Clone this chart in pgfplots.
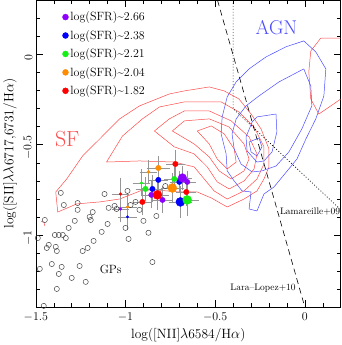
\documentclass[border=0pt]{standalone}
\usepackage{pgfplots}
\usepackage{pgfplotstable}
\pgfplotsset{compat=1.18}

\definecolor{cpurple}{RGB}{140,0,255}
\definecolor{cblue}{RGB}{0,0,255}
\definecolor{cgreen}{RGB}{20,240,20}
\definecolor{corange}{RGB}{255,140,0}
\definecolor{cred}{RGB}{255,0,0}
\definecolor{sfred}{RGB}{255,75,75}
\definecolor{agnblue}{RGB}{75,75,255}
\definecolor{errgray}{RGB}{150,150,150}
\definecolor{gpgray}{RGB}{70,70,70}

% x y xerr yerr marksize
\pgfplotstableread{
x y ex ey s
-1.028 -0.856 0.040 0.065 1.3
-0.856 -0.778 0.045 0.065 2.7
-0.794 -0.806 0.045 0.065 2.7
-0.656 -0.706 0.040 0.050 2.7
-0.683 -0.684 0.045 0.055 4.3
}\tpurple
\pgfplotstableread{
x y ex ey s
-0.989 -0.900 0.045 0.065 1.3
-0.850 -0.745 0.045 0.065 2.7
-0.817 -0.695 0.045 0.055 2.7
-0.700 -0.706 0.040 0.050 2.7
-0.694 -0.817 0.055 0.080 4.5
}\tblue
\pgfplotstableread{
x y ex ey s
-0.911 -0.712 0.040 0.065 1.3
-0.889 -0.745 0.045 0.055 2.7
-0.728 -0.690 0.045 0.055 2.7
-0.656 -0.806 0.055 0.080 4.5
}\tgreen
\pgfplotstableread{
x y ex ey s
-0.989 -0.845 0.045 0.065 1.3
-0.872 -0.651 0.040 0.055 1.5
-0.817 -0.629 0.055 0.055 2.7
-0.739 -0.740 0.055 0.075 4.5
}\torange
\pgfplotstableread{
x y ex ey s
-1.028 -0.773 0.040 0.080 1.3
-0.906 -0.817 0.045 0.065 2.7
-0.722 -0.607 0.045 0.065 2.7
-0.661 -0.762 0.045 0.065 2.7
-0.822 -0.778 0.055 0.075 4.5
}\tred

% green peas
\pgfplotstableread{
x y
-1.361 -0.767
-1.344 -0.834
-1.267 -0.823
-1.267 -0.861
-1.450 -0.917
-1.489 -1.017
-1.428 -1.055
-1.439 -1.072
-1.389 -1.066
-1.383 -1.089
-1.394 -1.000
-1.372 -1.000
-1.350 -1.000
-1.333 -1.017
-1.317 -0.961
-1.283 -0.922
-1.200 -0.900
-1.194 -0.917
-1.183 -0.873
-1.133 -0.983
-1.100 -0.939
-1.178 -1.033
-1.211 -1.072
-1.239 -1.089
-1.256 -1.172
-1.356 -1.177
-1.411 -1.161
-1.478 -1.188
-1.372 -1.216
-1.300 -1.238
-1.222 -1.260
-1.383 -1.299
-1.456 -1.393
-1.117 -0.773
-0.989 -0.756
-1.094 -0.850
-1.061 -0.839
-1.050 -0.856
-0.972 -0.834
-0.944 -0.817
-0.922 -0.861
-0.900 -0.922
-0.828 -0.895
-0.872 -0.988
-1.000 -0.961
-0.983 -1.022
-0.850 -1.150
-0.778 -0.729
}\tgps

\pgfplotsset{
  errs/.style={forget plot, draw=none, mark=none,
    error bars/.cd, x dir=both, x explicit, y dir=both, y explicit,
    error bar style={draw=errgray, line width=0.5pt},
    error mark options={draw=errgray, mark size=1.8pt}},
  dots/.style={forget plot, scatter, only marks, mark=*,
    scatter/use mapped color={draw=#1, fill=#1},
    visualization depends on={\thisrow{s} \as \msize},
    scatter/@pre marker code/.append style={/tikz/mark size=\msize}},
}

\begin{document}
\begin{tikzpicture}
\begin{axis}[
  scale only axis, width=306pt, height=308pt,
  xmin=-1.5, xmax=0.2, ymin=-1.4, ymax=0.3,
  xtick={-1.5,-1,-0.5,0}, ytick={-1,-0.5,0},
  minor xtick={-1.4,-1.3,-1.2,-1.1,-0.9,-0.8,-0.7,-0.6,-0.4,-0.3,-0.2,-0.1,0.1},
  minor ytick={-1.3,-1.2,-1.1,-0.9,-0.8,-0.7,-0.6,-0.4,-0.3,-0.2,-0.1,0.1,0.2},
  tick align=inside, major tick length=7pt, minor tick length=4pt,
  tick style={black, line width=0.5pt},
  axis line style={line width=0.6pt},
  ticklabel style={font=\fontsize{13}{15}\selectfont},
  xticklabel style={yshift=-2pt},
  yticklabel style={rotate=90, anchor=south, xshift=-3pt},
  label style={font=\fontsize{13.5}{16}\selectfont},
  xlabel={log([NII]$\lambda$6584/H$\alpha$)},
  ylabel={log([SII]$\lambda\lambda$6717,6731/H$\alpha$)},
  legend cell align=left,
  legend style={draw=none, fill=none, at={(0.077,0.976)}, anchor=north west,
    font=\fontsize{12}{14}\selectfont, row sep=4pt},
]
\addlegendimage{only marks, mark=*, mark size=3pt, cpurple}
\addlegendentry{log(SFR)\textasciitilde2.66}
\addlegendimage{only marks, mark=*, mark size=3pt, cblue}
\addlegendentry{log(SFR)\textasciitilde2.38}
\addlegendimage{only marks, mark=*, mark size=3pt, cgreen}
\addlegendentry{log(SFR)\textasciitilde2.21}
\addlegendimage{only marks, mark=*, mark size=3pt, corange}
\addlegendentry{log(SFR)\textasciitilde2.04}
\addlegendimage{only marks, mark=*, mark size=3pt, cred}
\addlegendentry{log(SFR)\textasciitilde1.82}

% SF contours
\addplot[forget plot, sfred, line width=0.5pt] coordinates {
(-1.378,-0.873) (-1.389,-0.762) (-1.328,-0.690) (-1.239,-0.562) (-1.144,-0.468)
(-1.033,-0.357) (-0.922,-0.285) (-0.756,-0.219) (-0.672,-0.202) (-0.533,-0.180)
(-0.450,-0.202) (-0.367,-0.247) (-0.300,-0.330) (-0.244,-0.413) (-0.200,-0.524)
(-0.200,-0.623) (-0.228,-0.690) (-0.267,-0.756) (-0.339,-0.801) (-0.433,-0.845)
(-0.522,-0.795) (-0.600,-0.762) (-0.700,-0.762) (-0.828,-0.751) (-0.906,-0.751)
(-0.961,-0.773) (-1.033,-0.801) (-1.144,-0.817) (-1.272,-0.828) (-1.378,-0.873)};
\addplot[forget plot, sfred, line width=0.5pt] coordinates {
(-1.106,-0.596) (-1.017,-0.452) (-0.906,-0.357) (-0.811,-0.291) (-0.672,-0.263)
(-0.467,-0.263) (-0.367,-0.319) (-0.283,-0.402) (-0.228,-0.512) (-0.228,-0.607)
(-0.267,-0.690) (-0.339,-0.756) (-0.433,-0.801) (-0.506,-0.756) (-0.561,-0.690)
(-0.617,-0.623) (-0.728,-0.596) (-0.922,-0.590) (-1.106,-0.596)};
\addplot[forget plot, sfred, line width=0.5pt] coordinates {
(-0.839,-0.424) (-0.756,-0.357) (-0.672,-0.313) (-0.533,-0.313) (-0.411,-0.368)
(-0.311,-0.457) (-0.267,-0.551) (-0.283,-0.634) (-0.339,-0.701) (-0.422,-0.745)
(-0.489,-0.706) (-0.544,-0.623) (-0.617,-0.551) (-0.728,-0.512) (-0.839,-0.424)};
\addplot[forget plot, sfred, line width=0.5pt] coordinates {
(-0.739,-0.424) (-0.672,-0.368) (-0.533,-0.357) (-0.422,-0.402) (-0.339,-0.496)
(-0.311,-0.579) (-0.339,-0.645) (-0.411,-0.690) (-0.478,-0.645) (-0.533,-0.568)
(-0.617,-0.496) (-0.739,-0.424)};
\addplot[forget plot, sfred, line width=0.5pt] coordinates {
(-0.600,-0.424) (-0.522,-0.396) (-0.450,-0.440) (-0.394,-0.524) (-0.383,-0.596)
(-0.433,-0.634) (-0.489,-0.579) (-0.533,-0.496) (-0.600,-0.424)};
\addplot[forget plot, sfred, line width=0.5pt] coordinates {
(-1.470,-0.925) (-1.455,-0.930) (-1.450,-0.950)};
\addplot[forget plot, sfred, line width=0.5pt] coordinates {
(0.217,0.091) (0.089,0.091) (0.033,0.019) (0.022,-0.097) (0.033,-0.247)
(0.078,-0.330) (0.161,-0.274) (0.217,-0.235)};

% AGN contours
\addplot[forget plot, agnblue, line width=0.5pt] coordinates {
(-0.006,0.075) (-0.106,0.042) (-0.217,-0.014) (-0.311,-0.080) (-0.383,-0.152)
(-0.433,-0.235) (-0.461,-0.346) (-0.467,-0.440) (-0.439,-0.551) (-0.433,-0.645)
(-0.394,-0.701) (-0.350,-0.756) (-0.300,-0.762) (-0.311,-0.856) (-0.267,-0.867)
(-0.228,-0.773) (-0.172,-0.734) (-0.089,-0.634) (-0.044,-0.579) (0.006,-0.468)
(0.061,-0.357) (0.106,-0.230) (0.117,-0.080) (0.061,0.014) (-0.006,0.075)};
\addplot[forget plot, agnblue, line width=0.5pt] coordinates {
(-0.006,-0.080) (-0.144,-0.152) (-0.256,-0.230) (-0.328,-0.285) (-0.383,-0.357)
(-0.406,-0.440) (-0.394,-0.524) (-0.356,-0.607) (-0.294,-0.651) (-0.239,-0.645)
(-0.161,-0.618) (-0.089,-0.540) (-0.017,-0.413) (0.039,-0.285) (0.033,-0.175)
(-0.006,-0.080)};
\addplot[forget plot, agnblue, line width=0.5pt] coordinates {
(-0.267,-0.346) (-0.161,-0.330) (-0.156,-0.429) (-0.183,-0.540) (-0.228,-0.590)
(-0.267,-0.596) (-0.322,-0.535) (-0.328,-0.457) (-0.294,-0.374) (-0.267,-0.346)};
\addplot[forget plot, agnblue, line width=0.5pt] coordinates {
(-0.311,-0.485) (-0.256,-0.463) (-0.239,-0.512) (-0.267,-0.562) (-0.300,-0.540)
(-0.311,-0.485)};

% demarcation lines
\addplot[forget plot, black, line width=0.7pt, dash pattern=on 0.9pt off 2pt]
  coordinates {(-0.4,0.3) (-0.4,-0.3) (0.2,-0.86)};
\addplot[forget plot, black, line width=0.6pt, dash pattern=on 6pt off 4pt]
  coordinates {(-0.487,0.3) (0,-1.4)};

% green peas
\addplot[forget plot, only marks, mark=o, mark size=2.6pt, gpgray,
  mark options={line width=0.5pt}] table[x=x, y=y] {\tgps};

% error bars
\addplot[errs] table[x=x, y=y, x error=ex, y error=ey] {\tblue};
\addplot[errs] table[x=x, y=y, x error=ex, y error=ey] {\tpurple};
\addplot[errs] table[x=x, y=y, x error=ex, y error=ey] {\tgreen};
\addplot[errs] table[x=x, y=y, x error=ex, y error=ey] {\torange};
\addplot[errs] table[x=x, y=y, x error=ex, y error=ey] {\tred};

% SFR bins
\addplot[dots=cblue] table[x=x, y=y] {\tblue};
\addplot[dots=cpurple] table[x=x, y=y] {\tpurple};
\addplot[dots=cgreen] table[x=x, y=y] {\tgreen};
\addplot[dots=corange] table[x=x, y=y] {\torange};
\addplot[dots=cred] table[x=x, y=y] {\tred};

\node[text=sfred, font=\fontsize{22}{24}\selectfont] at (axis cs:-1.325,-0.468) {SF};
\node[text=agnblue, font=\fontsize{20}{22}\selectfont] at (axis cs:-0.158,0.147) {AGN};
\node[font=\fontsize{12}{14}\selectfont] at (axis cs:-1.083,-1.191) {GPs};
\node[font=\fontsize{9.5}{11}\selectfont, anchor=east, inner sep=0pt] at (axis cs:0.198,-0.873) {Lamareille+09};
\node[font=\fontsize{9.5}{11}\selectfont, inner sep=0pt] at (axis cs:-0.233,-1.296) {Lara--Lopez+10};
\end{axis}
\end{tikzpicture}
\end{document}
